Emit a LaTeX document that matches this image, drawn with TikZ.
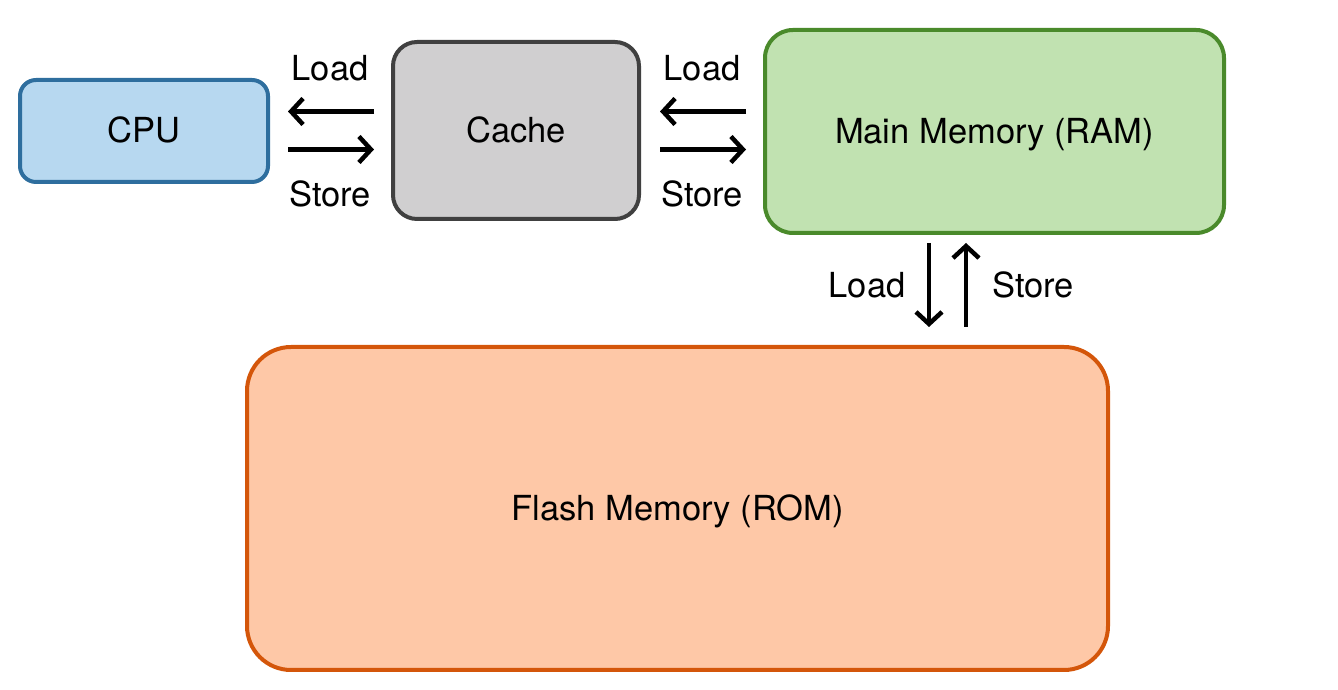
\documentclass[tikz,border=0pt]{standalone}
\usepackage{fontspec}
\setmainfont{TeX Gyre Heros}
\usetikzlibrary{arrows.meta,calc}
\definecolor{cpufill}{HTML}{B7D8F0}
\definecolor{cpuline}{HTML}{2E6E9E}
\definecolor{cachefill}{HTML}{D0CFD0}
\definecolor{cacheline}{HTML}{404040}
\definecolor{mainfill}{HTML}{C1E2B1}
\definecolor{mainline}{HTML}{4A8A2B}
\definecolor{flashfill}{HTML}{FEC8A7}
\definecolor{flashline}{HTML}{D4560A}
\tikzset{
  box/.style={draw, line width=4pt, rounded corners=#1, inner sep=0pt, text height=24pt, text depth=0pt, font=\fontsize{34.5}{40}\selectfont},
  lbl/.style={anchor=base, inner sep=0pt, font=\fontsize{34.5}{40}\selectfont},
  arr/.style={line width=4.5pt, -{Straight Barb[length=12pt,width=26pt,line width=4.5pt]}},
}
\begin{document}
\begin{tikzpicture}[x=1pt,y=1pt]
\useasboundingbox (0,0) rectangle (1338,690);
\node[box=16pt, fill=cpufill, draw=cpuline, minimum width=248pt, minimum height=102pt] (cpu) at (144,559) {CPU};
\node[box=24pt, fill=cachefill, draw=cacheline, minimum width=246pt, minimum height=177pt] (cache) at (516,559.5) {Cache};
\node[box=28pt, fill=mainfill, draw=mainline, minimum width=459pt, minimum height=203pt] (main) at (994.5,558.5) {Main Memory (RAM)};
\node[box=44pt, fill=flashfill, draw=flashline, minimum width=861pt, minimum height=323pt] (flash) at (677.5,181.5) {Flash Memory (ROM)};
% CPU <-> Cache
\draw[arr, shorten <=17pt, shorten >=18pt] ([yshift=19pt]cache.west) -- ([yshift=19pt]cache.west -| cpu.east);
\draw[arr, shorten <=18pt, shorten >=17pt] ([yshift=-19pt]cache.west -| cpu.east) -- ([yshift=-19pt]cache.west);
\node[lbl] (l1) at (330,609) {Load};
\node[lbl] (s1) at (330,483) {Store};
% Cache <-> Main
\draw[arr, shorten <=17pt, shorten >=19pt] ([yshift=20pt]main.west) -- ([yshift=20pt]main.west -| cache.east);
\draw[arr, shorten <=19pt, shorten >=17pt] ([yshift=-18pt]main.west -| cache.east) -- ([yshift=-18pt]main.west);
\node[lbl] (l2) at (702,609) {Load};
\node[lbl] (s2) at (702,483) {Store};
% Main <-> Flash
\draw[arr, shorten <=8pt, shorten >=18pt] ([xshift=-65.5pt]main.south) -- ([xshift=-65.5pt]main.south |- flash.north);
\draw[arr, shorten <=18pt, shorten >=8pt] ([xshift=-28.5pt]main.south |- flash.north) -- ([xshift=-28.5pt]main.south);
\node[lbl] (l3) at (867,392) {Load};
\node[lbl] (s3) at (1033,392) {Store};
\end{tikzpicture}
\end{document}
